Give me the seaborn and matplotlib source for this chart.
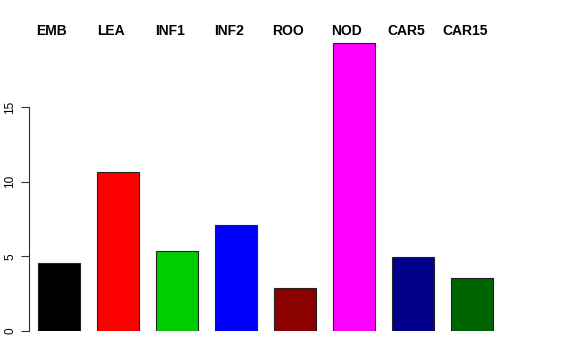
import pandas as pd
import matplotlib
matplotlib.use("Agg")
import matplotlib.pyplot as plt
import seaborn as sns

categories = ["EMB", "LEA", "INF1", "INF2", "ROO", "NOD", "CAR5", "CAR15"]
values = [4.55, 10.65, 5.36, 7.1, 2.88, 19.29, 4.96, 3.55]
colors = ["#000000", "#FF0000", "#00CD00", "#0000FF", "#8B0000", "#FF00FF", "#00008B", "#006400"]
yticks = [0, 5, 10, 15]

sns.set_style("white")
plt.rcParams["font.family"] = ["Liberation Sans", "DejaVu Sans"]
plt.rcParams["text.color"] = "black"
plt.rcParams["ytick.color"] = "black"

df = pd.DataFrame({"tissue": categories, "value": values})

fig = plt.figure(figsize=(5.76, 3.6), dpi=100)
# axes box in pixels: left 29, right 547, bottom 331, top 32
ax = fig.add_axes([29 / 576, (360 - 331) / 360, (547 - 29) / 576, (331 - 32) / 360])

sns.barplot(data=df, x="tissue", y="value", hue="tissue", palette=colors,
            width=0.71, edgecolor="#222222", linewidth=0.8, saturation=1,
            legend=False, ax=ax)

ax.set_xlim((29 - 59) / 59, (547 - 59) / 59)
ax.set_ylim(0, (331 - 32) / 14.93)
ax.set_xlabel("")
ax.set_ylabel("")
ax.set_xticks([])
ax.set_yticks(yticks)
ax.set_yticklabels([str(t) for t in yticks], rotation=90, va="center", fontsize=8.5)
ax.tick_params(axis="y", direction="out", length=6, width=0.8, color="#333333",
               labelcolor="black", pad=3, left=True)

for side in ["top", "right", "bottom"]:
    ax.spines[side].set_visible(False)
ax.spines["left"].set_bounds(0, 15)
ax.spines["left"].set_linewidth(0.8)
ax.spines["left"].set_color("#333333")

# labels above bars
for i, name in enumerate(categories):
    ax.text(i - 0.12, 20.1, name, ha="center", va="center", fontsize=10,
            fontweight="bold", color="black", clip_on=False)

fig.savefig("out.png", dpi=100)
